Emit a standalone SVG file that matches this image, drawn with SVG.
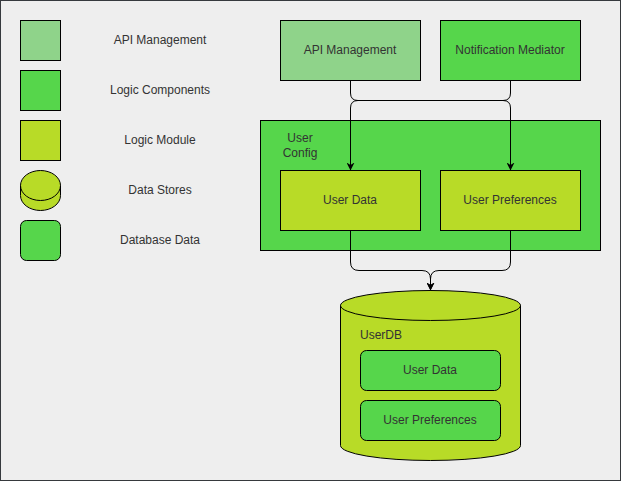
<svg xmlns="http://www.w3.org/2000/svg" width="621" height="481" viewBox="0 0 621 481">
<defs>
<style>
.t{font-family:"Liberation Sans",Arial,sans-serif;font-size:12px;fill:#333333;text-anchor:middle;dominant-baseline:central}
.l{text-anchor:start}
.api{fill:#8fd38a;stroke:#000;stroke-width:1}
.logic{fill:#56d64b;stroke:#000;stroke-width:1}
.mod{fill:#b8db27;stroke:#000;stroke-width:1}
.c{fill:none;stroke:#000;stroke-width:1}
</style>
<marker id="arr" viewBox="0 0 10 10" refX="10" refY="5" markerWidth="8" markerHeight="8" markerUnits="userSpaceOnUse" orient="auto">
<path d="M0,0 L10,5 L0,10 L3,5 Z" fill="#000"/>
</marker>
</defs>
<rect x="0.5" y="0.5" width="620" height="480" fill="#eeeeee" stroke="#36393d"/>
<g id="legend">
<rect class="api" x="20.5" y="20.5" width="40" height="40"/>
<text class="t" x="160" y="40">API Management</text>
<rect class="logic" x="20.5" y="70.5" width="40" height="40"/>
<text class="t" x="160" y="90">Logic Components</text>
<rect class="mod" x="20.5" y="120.5" width="40" height="40"/>
<text class="t" x="160" y="140">Logic Module</text>
<path class="mod" d="M20.5,185.5 A20,15 0 0 1 60.5,185.5 V195.5 A20,15 0 0 1 20.5,195.5 Z"/>
<path class="c" d="M20.5,185.5 A20,15 0 0 0 60.5,185.5"/>
<text class="t" x="160" y="190">Data Stores</text>
<rect class="logic" x="20.5" y="220.5" width="40" height="40" rx="6"/>
<text class="t" x="160" y="240">Database Data</text>
</g>
<g id="api-management">
<rect class="api" x="280.5" y="20.5" width="140" height="60"/>
<text class="t" x="350" y="50">API Management</text>
</g>
<g id="notification-mediator">
<rect class="logic" x="440.5" y="20.5" width="140" height="60"/>
<text class="t" x="510" y="50">Notification Mediator</text>
</g>
<g id="user-config">
<rect class="logic" x="260.5" y="120.5" width="340" height="130"/>
<text class="t" x="300" y="138">User</text>
<text class="t" x="300" y="153">Config</text>
</g>
<g id="user-data">
<rect class="mod" x="280.5" y="170.5" width="140" height="60"/>
<text class="t" x="350" y="200">User Data</text>
</g>
<g id="user-preferences">
<rect class="mod" x="440.5" y="170.5" width="140" height="60"/>
<text class="t" x="510" y="200">User Preferences</text>
</g>
<g id="userdb">
<path class="mod" d="M340.5,305.5 A90,15 0 0 1 520.5,305.5 V445.5 A90,15 0 0 1 340.5,445.5 Z"/>
<path class="c" d="M340.5,305.5 A90,15 0 0 0 520.5,305.5"/>
<text class="t l" x="360" y="335">UserDB</text>
</g>
<g id="db-user-data">
<rect class="logic" x="360.5" y="350.5" width="140" height="40" rx="6"/>
<text class="t" x="430" y="370">User Data</text>
</g>
<g id="db-user-preferences">
<rect class="logic" x="360.5" y="400.5" width="140" height="40" rx="6"/>
<text class="t" x="430" y="420">User Preferences</text>
</g>
<g id="connectors">
<path class="c" marker-end="url(#arr)" d="M350.5,80.5 V93 Q350.5,100.5 358,100.5 H503 Q510.5,100.5 510.5,108 V170.5"/>
<path class="c" marker-end="url(#arr)" d="M510.5,80.5 V93 Q510.5,100.5 503,100.5 H358 Q350.5,100.5 350.5,108 V170.5"/>
<path class="c" marker-end="url(#arr)" d="M350.5,230.5 V262 Q350.5,270.5 359,270.5 H422 Q430.5,270.5 430.5,279 V290.5"/>
<path class="c" marker-end="url(#arr)" d="M510.5,230.5 V262 Q510.5,270.5 502,270.5 H439 Q430.5,270.5 430.5,279 V290.5"/>
</g>
</svg>
